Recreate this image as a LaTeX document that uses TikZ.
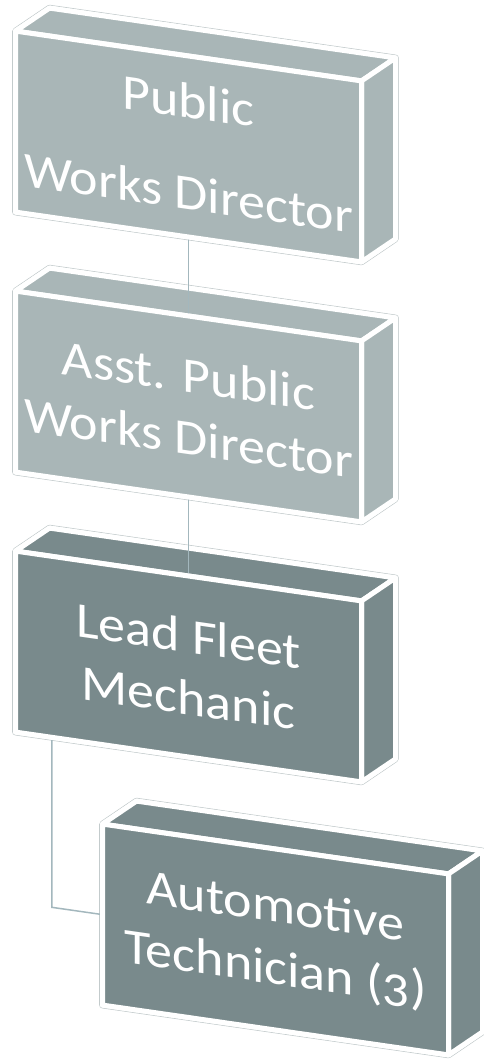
\documentclass[tikz,border=0pt]{standalone}
\usepackage{fontspec}
\setmainfont{Carlito}[Numbers=OldStyle, FakeStretch=1.08]
\usepackage{xcolor}
\usepackage{tikz}
\usetikzlibrary{calc, backgrounds}

\definecolor{paleslate}{HTML}{A9B6B7}
\definecolor{darkslate}{HTML}{798A8C}
\definecolor{rimgray}{HTML}{C3CBCC}
\definecolor{linkblue}{HTML}{A3B7BD}

\begin{document}
\begin{tikzpicture}[
    x=1pt, y=1pt,
    front/.style={rectangle, draw=white, line width=5pt, line join=round, outer sep=0pt, yslant=-0.144, minimum width=346pt, minimum height=181pt, align=center, text=white, font=\fontsize{50}{62}\selectfont},
    side/.style={draw=white, line width=5pt, line join=round},
    rim/.style={draw=rimgray, line width=0.8pt, double=white, double distance=5pt, line join=round},
    link/.style={draw=linkblue, line width=1.5pt}
]
\useasboundingbox (0,0) rectangle (483,-1063);

% Front faces
\node[front, fill=paleslate] (pwd) at (188.5,-146.5) {Public\\[30pt]Works Director};
\node[front, fill=paleslate] (apwd) at (188.5,-406.5) {Asst. Public\\Works Director};
\node[front, fill=darkslate] (lfm) at (188.5,-666.5) {Lead Fleet\\Mechanic};
\node[front, fill=darkslate] (atech) at (275.5,-939.5) {Automotive\\Technician (3)};

\begin{scope}[on background layer]
% Public Works Director
\draw[rim] (pwd.north west) -- ++(34,23) -- ($(pwd.north east)+(34,23)$) -- ($(pwd.south east)+(34,23)$) -- (pwd.south east) -- (pwd.south west) -- cycle;
\filldraw[side, fill=paleslate] (pwd.north west) -- ++(34,23) -- ($(pwd.north east)+(34,23)$) -- (pwd.north east) -- cycle;
\filldraw[side, fill=paleslate] (pwd.north east) -- ++(34,23) -- ($(pwd.south east)+(34,23)$) -- (pwd.south east) -- cycle;

% Asst. Public Works Director
\draw[rim] (apwd.north west) -- ++(34,23) -- ($(apwd.north east)+(34,23)$) -- ($(apwd.south east)+(34,23)$) -- (apwd.south east) -- (apwd.south west) -- cycle;
\filldraw[side, fill=paleslate] (apwd.north west) -- ++(34,23) -- ($(apwd.north east)+(34,23)$) -- (apwd.north east) -- cycle;
\filldraw[side, fill=paleslate] (apwd.north east) -- ++(34,23) -- ($(apwd.south east)+(34,23)$) -- (apwd.south east) -- cycle;

% Lead Fleet Mechanic
\draw[rim] (lfm.north west) -- ++(34,23) -- ($(lfm.north east)+(34,23)$) -- ($(lfm.south east)+(34,23)$) -- (lfm.south east) -- (lfm.south west) -- cycle;
\filldraw[side, fill=darkslate] (lfm.north west) -- ++(34,23) -- ($(lfm.north east)+(34,23)$) -- (lfm.north east) -- cycle;
\filldraw[side, fill=darkslate] (lfm.north east) -- ++(34,23) -- ($(lfm.south east)+(34,23)$) -- (lfm.south east) -- cycle;

% Automotive Technician
\draw[rim] (atech.north west) -- ++(34,23) -- ($(atech.north east)+(34,23)$) -- ($(atech.south east)+(34,23)$) -- (atech.south east) -- (atech.south west) -- cycle;
\filldraw[side, fill=darkslate] (atech.north west) -- ++(34,23) -- ($(atech.north east)+(34,23)$) -- (atech.north east) -- cycle;
\filldraw[side, fill=darkslate] (atech.north east) -- ++(34,23) -- ($(atech.south east)+(34,23)$) -- (atech.south east) -- cycle;

% Links
\coordinate (drop) at ($(lfm.south west)!0.105!(lfm.south east)$);
\coordinate (elbow) at ($(atech.west)!-0.146!(atech.east)$);
\draw[link] (pwd.south) -- (apwd.north);
\draw[link] (apwd.south) -- (lfm.north);
\draw[link] (drop) -- (drop |- elbow) -- (atech.west);
\end{scope}

\end{tikzpicture}
\end{document}
